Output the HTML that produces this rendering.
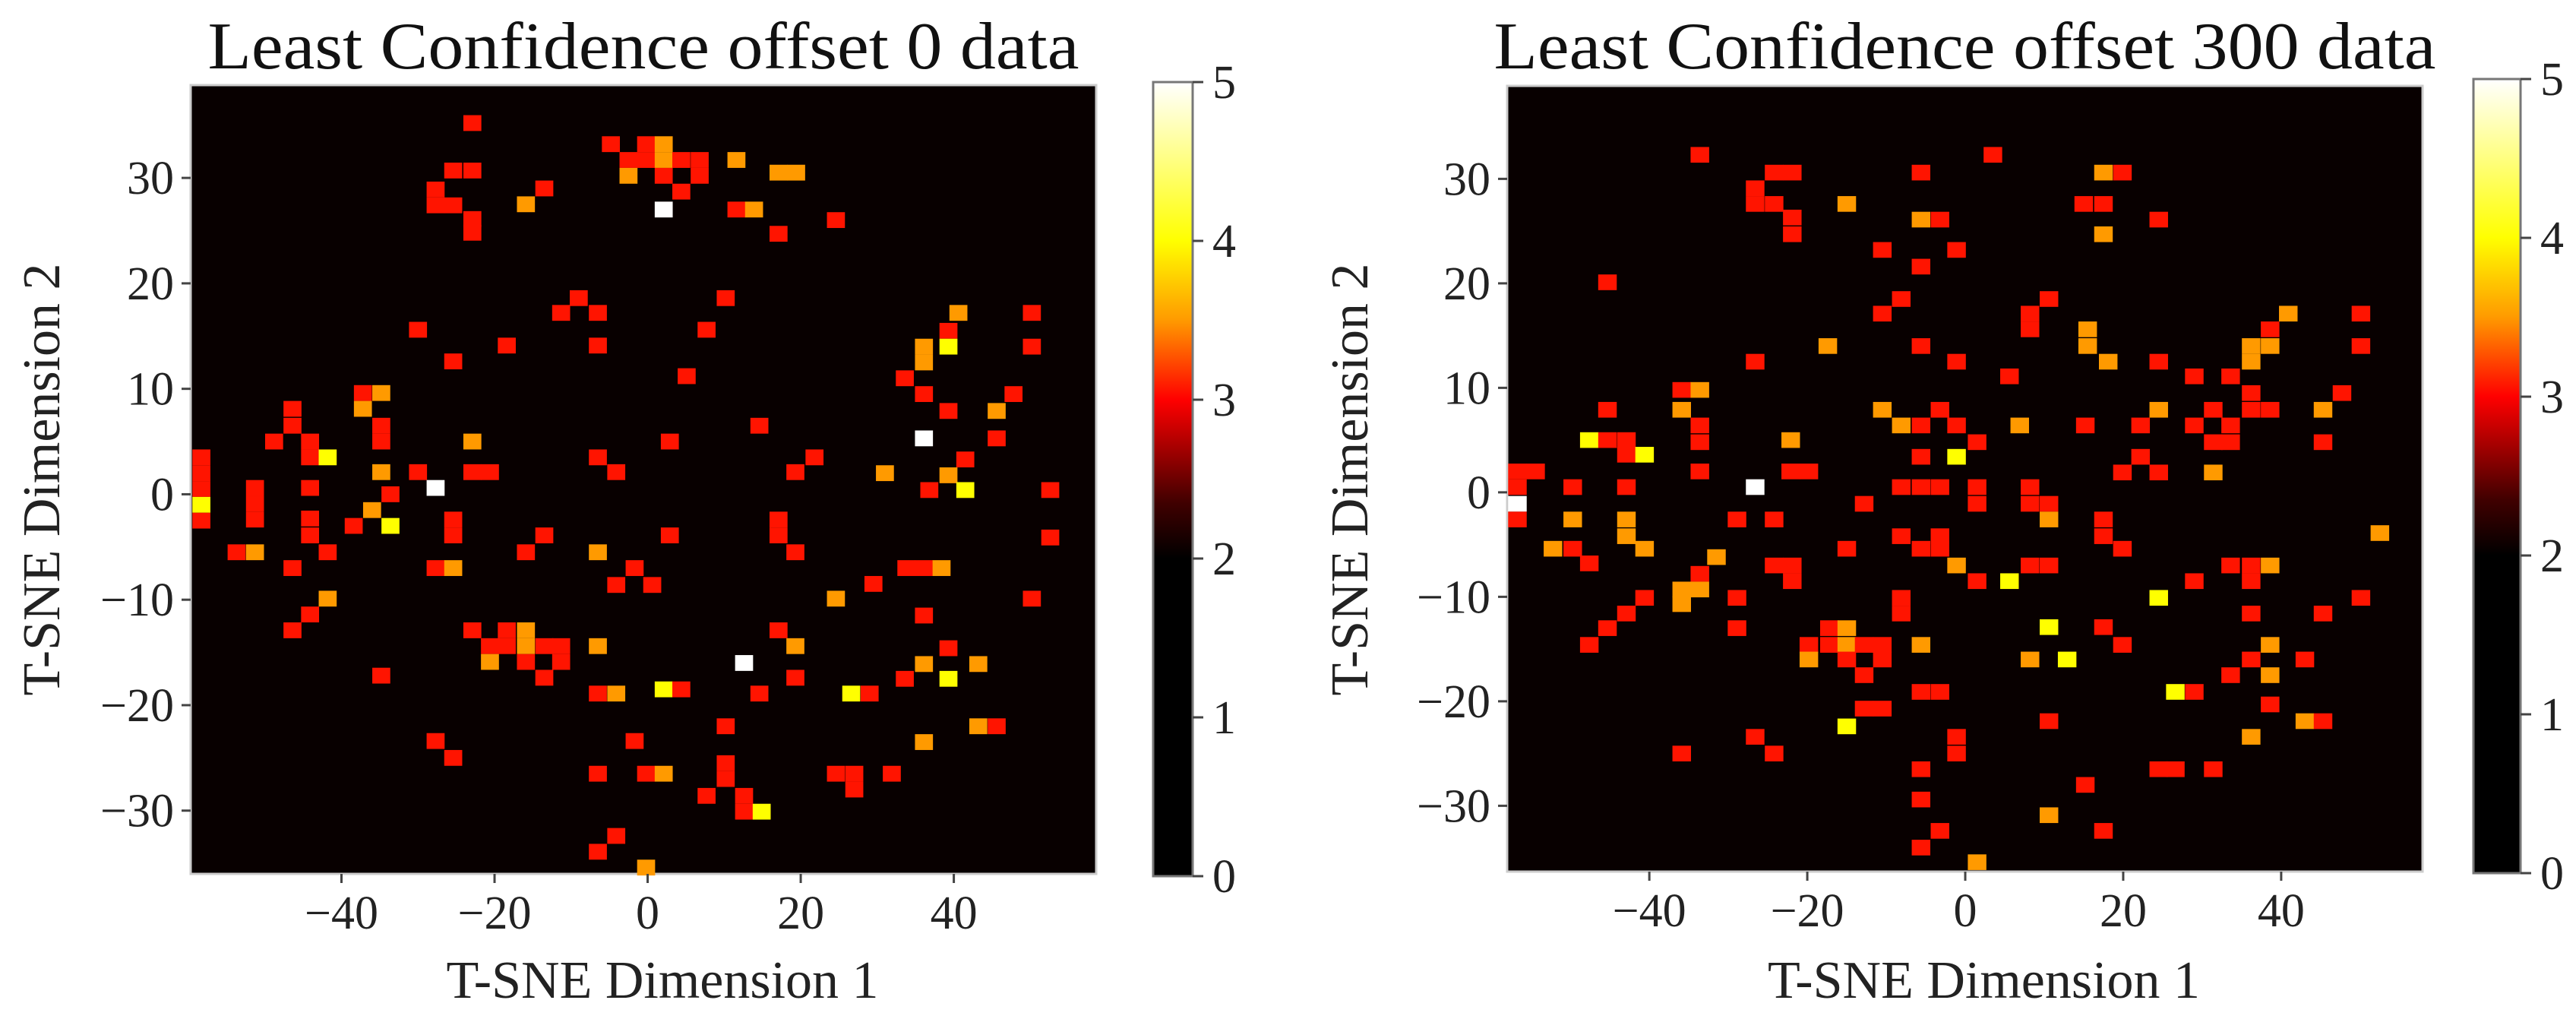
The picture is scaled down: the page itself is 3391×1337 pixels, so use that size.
<!DOCTYPE html>
<html><head><meta charset="utf-8"><style>
html,body{margin:0;padding:0;background:#fff;}
svg{display:block;font-family:"Liberation Serif",serif;}
</style></head><body>
<svg id="fig" width="3391" height="1337" viewBox="0 0 3391 1337" xmlns="http://www.w3.org/2000/svg">
<defs>
<linearGradient id="hotgrad" x1="0" y1="1" x2="0" y2="0">
<stop offset="0" stop-color="#000000"/><stop offset="0.4" stop-color="#000000"/>
<stop offset="0.47" stop-color="#400000"/><stop offset="0.6" stop-color="#ff0000"/>
<stop offset="0.7" stop-color="#ff9a00"/><stop offset="0.8" stop-color="#ffff00"/>
<stop offset="1" stop-color="#ffffff"/>
</linearGradient>
</defs>
<g id="left"></g>
<g id="right"></g>
</svg>
<script>
const leftX=[-22.9,-4.8,-2.5,-0.2,-0.2,2.1,2.1,4.4,6.8,6.8,2.1,-2.5,4.4,2.1,11.6,17.1,19.4,11.6,13.9,24.6,17.1,-25.4,-22.9,-27.7,-27.7,-25.4,-22.9,-22.9,-15.9,-13.5,-9.0,-11.3,-6.5,-30,-18.4,-6.5,-25.4,10.2,7.7,5.1,-37.2,-34.8,-37.2,-34.8,-34.8,-46.4,-46.4,-48.8,-44.1,-44.1,-41.8,-22.9,-30,-27.7,-22.9,-20.6,-34.8,-58.3,-58.3,-58.3,-58.3,-58.3,-51.3,-51.3,-51.3,-53.7,-51.3,-44.1,-44.1,-44.1,-41.8,-46.4,-36.0,-33.6,-33.6,-38.4,-25.4,-25.4,-27.7,-25.4,-15.9,-13.5,-6.5,-4.1,2.9,2.9,-6.5,-1.7,-4.1,0.6,14.6,19.3,21.8,17.1,17.1,19.3,-41.8,-44.1,-46.4,-34.8,-22.9,-18.4,-18.4,-20.6,-15.9,-15.9,-20.6,-15.9,-13.5,-11.3,-11.3,-13.5,-6.5,-6.5,-4.1,2.1,4.4,12.6,14.6,17.1,19.3,19.3,24.6,29.5,33.8,36.1,38.4,26.6,29.0,10.2,-27.7,-25.4,-1.7,-6.5,-0.2,2.1,10.2,10.2,7.7,12.6,12.6,14.9,24.6,27.0,27.0,31.9,-4.1,-6.5,-0.2,40.6,39.3,36.1,36.1,39.3,50.2,50.2,33.6,36.1,39.3,45.6,47.8,36.1,45.6,41.5,39.3,36.8,41.5,31.0,52.6,52.6,50.2,36.1,39.3,36.1,39.3,33.6,43.2,43.2,45.6,36.1];
const leftY=[35.2,33.2,31.7,33.2,31.7,33.2,31.7,31.7,31.7,30.2,30.2,30.2,28.7,27.0,31.7,30.5,30.5,27.0,27.0,26.0,24.7,30.7,30.7,28.9,27.4,27.4,26.1,24.8,27.5,29.0,18.6,17.2,17.2,15.6,14.1,14.1,12.6,18.6,15.6,11.2,9.6,9.6,8.1,6.5,5.0,8.1,6.5,5.0,5.0,3.5,3.5,5.0,2.1,0.6,2.1,2.1,2.1,3.5,2.0,0.5,-1.0,-2.5,0.6,-0.9,-2.4,-5.5,-5.5,0.6,-2.3,-3.9,-5.5,-7.0,-1.5,0,-3.0,-3.0,-2.4,-3.9,-7.0,-7.0,-5.5,-3.9,3.5,2.1,5.0,-3.9,-5.5,-7.0,-8.6,-8.6,6.5,2.1,3.5,-2.4,-3.9,-5.5,-9.9,-11.4,-12.9,-17.2,-12.9,-12.9,-14.4,-14.4,-12.9,-14.4,-15.9,-15.9,-14.4,-14.4,-15.9,-17.4,-14.4,-18.9,-18.9,-18.5,-18.5,-16.0,-18.9,-12.9,-14.4,-17.4,-9.9,-8.5,-7.0,-7.0,-7.0,-18.9,-18.9,-22.0,-23.4,-25.0,-23.4,-26.5,-26.5,-26.5,-25.5,-27.0,-28.6,-28.6,-30.1,-30.1,-26.5,-26.5,-28.0,-26.5,-32.4,-33.9,-35.4,17.2,15.5,14.0,12.5,14.0,17.2,14.0,11.0,9.5,7.9,7.9,9.5,5.3,5.3,3.3,1.8,0.4,0.4,2.0,0.4,-4.1,-9.9,-11.5,-14.6,-16.1,-17.5,-17.5,-16.1,-22.0,-22.0,-23.5];
const leftV=[3,3,3,3,3,3.5,3.5,3,3,3,3,3.5,3,5,3.5,3.5,3.5,3,3.5,3,3,3,3,3,3,3,3,3,3.5,3,3,3,3,3,3,3,3,3,3,3,3,3.5,3.5,3,3,3,3,3,3,3,4,3.5,3,5,3,3,3.5,3,3,3,4,3,3,3,3,3,3.5,3,3,3,3,3,3.5,3,4,3,3,3,3,3.5,3,3,3,3,3,3,3.5,3,3,3,3,3,3,3,3,3,3.5,3,3,3,3,3,3,3,3.5,3.5,3.5,3,3,3,3,3,3.5,3,3.5,4,3,5,3,3,3.5,3,3.5,3,3,3,3.5,4,3,3,3,3,3,3,3,3.5,3,3,3,3,3,4,3,3,3,3,3,3,3.5,3.5,3,3.5,3.5,4,3,3,3,3,3,3.5,3,5,3,3,3.5,3,4,3.5,3,3,3,3,3,3.5,4,3,3.5,3.5,3,3.5];
const rightX=[-33.6,3.5,-24.2,-21.9,-5.6,17.5,19.9,-26.6,-26.6,-24.2,-21.9,-21.9,-15.0,-5.6,-3.2,15.0,17.5,17.5,24.5,-10.5,-5.6,-1.1,-45.3,-8.1,-10.5,10.6,8.2,8.2,15.5,15.5,18.1,-17.4,-26.6,-5.6,-1.1,5.6,24.5,29.0,33.6,36.2,36.2,38.6,38.6,40.9,50.1,50.1,36.2,36.2,38.6,47.7,45.3,45.3,31.4,29.0,31.4,33.6,33.6,24.5,22.2,22.2,19.9,24.5,31.4,15.2,6.9,1.5,-1.1,-5.6,-5.6,-3.2,-10.5,-8.1,-1.1,-35.9,-33.6,-35.9,-33.6,-33.6,-45.3,-47.6,-45.3,-42.9,-42.9,-40.6,-22.1,-56.7,-54.4,-56.7,-56.7,-56.7,-49.7,-49.7,-42.9,-42.9,-42.9,-40.6,-52.2,-49.7,-47.6,-33.6,-26.6,-22.1,-19.8,-28.9,-24.2,-31.5,-33.6,-35.9,-33.6,-35.9,-40.6,-42.9,-45.3,-47.6,-28.9,-28.9,-24.2,-21.9,-21.9,-8.1,-5.6,-3.2,-12.8,1.5,1.5,8.2,8.2,10.6,10.6,17.5,17.5,19.9,-8.1,-3.2,-5.6,-3.2,-15.0,-1.1,1.5,5.6,8.2,10.6,-8.1,-8.1,24.5,29.0,33.6,36.2,36.2,38.6,50.1,36.2,45.3,52.5,10.6,17.5,19.9,8.2,12.9,-17.2,-19.8,-17.2,-15.0,-15.0,-19.8,-15.0,-12.8,-10.5,-10.5,-12.8,-5.6,-5.6,-3.2,-12.8,-10.5,-15.0,10.6,-26.6,-24.2,-35.9,-1.1,-1.1,-5.6,-5.6,-3.2,-5.6,1.5,10.6,15.2,17.5,26.6,29.0,33.6,36.2,38.6,38.6,43.0,38.6,43.0,45.3,36.2,24.5,26.6,31.4];
const rightY=[32.3,32.3,30.6,30.6,30.6,30.6,30.6,29.1,27.6,27.6,26.3,24.7,27.6,26.1,26.1,27.6,27.6,24.7,26.1,23.2,21.6,23.2,20.1,18.5,17.1,18.5,17.1,15.6,15.6,14.0,12.5,14.0,12.5,14.0,12.5,11.1,12.5,11.1,11.1,14.0,12.5,14.0,15.6,17.1,17.1,14.0,9.5,7.9,7.9,9.5,7.9,4.8,7.9,6.4,4.8,6.4,4.8,7.9,6.4,3.4,1.9,1.9,1.9,6.4,6.4,4.8,3.4,3.4,6.4,7.9,7.9,6.4,6.4,9.8,9.8,7.9,6.4,4.8,7.9,5.0,5.0,5.0,3.6,3.6,5.0,2.0,2.0,0.5,-1.1,-2.6,0.5,-2.6,0.5,-2.6,-4.2,-5.4,-5.4,-5.4,-6.8,2.0,0.5,2.0,2.0,-2.6,-2.6,-6.2,-7.8,-9.3,-9.3,-10.7,-10.1,-11.6,-13.0,-14.6,-10.1,-13.0,-7.0,-7.0,-8.5,0.5,0.5,0.5,-1.1,0.5,-1.1,0.5,-1.1,-1.1,-2.6,-2.6,-4.2,-5.4,-4.2,-4.2,-5.4,-5.4,-5.4,-7.0,-8.5,-8.5,-7.0,-7.0,-10.1,-11.6,-10.1,-8.5,-7.0,-7.0,-8.5,-7.0,-10.1,-11.6,-11.6,-3.9,-12.9,-12.9,-14.6,-16.0,-16.0,-13.0,-14.6,-14.6,-13.0,-14.6,-16.0,-16.0,-14.6,-14.6,-16.0,-17.5,-14.6,-19.1,-19.1,-20.7,-20.7,-22.4,-21.9,-23.4,-25.0,-25.0,-23.4,-25.0,-26.5,-29.4,-32.4,-34.0,-35.4,-30.9,-28.0,-32.4,-19.1,-19.1,-17.5,-16.0,-14.6,-17.5,-16.0,-20.3,-21.9,-21.9,-23.4,-26.5,-26.5,-26.5];
const rightV=[3,3,3,3,3,3.5,3,3,3,3,3,3,3.5,3.5,3,3,3,3.5,3,3,
3,3,3,3,3,3,3,3,3.5,3.5,3.5,3.5,3,3,3,3,3,3,3,3.5,
3.5,3.5,3,3.5,3,3,3,3,3,3,3.5,3,3,3,3,3,3,3.5,3,3,
3,3,3.5,3,3.5,3,4,3,3,3,3.5,3.5,3,3,3.5,3.5,3,3,3,4,
3,3,3,4,3.5,3,3,3,5,3,3,3.5,3,3.5,3.5,3.5,3.5,3,3,3,
5,3,3,3,3,3.5,3,3.5,3.5,3.5,3,3,3,3,3,3,3,3,3,3,
3,3,3,3,3,3,3,3,3.5,3,3,3,3,3,3,3,3,3.5,3,4,
3,3,3,3,4,3,3,3,3,3.5,3,3,3,3.5,4,3,3,3.5,4,3,
3,3,3.5,3.5,3.5,3,3,3,3,3,3.5,3,3,3,3,4,3,3,3,3,
3,3,3,3,3,3,3.5,3.5,3,3,4,3,3,3,3.5,3.5,3,3,3.5,3,
3.5,3,3,3];
const xTicks=[-40,-20,0,20,40];
const yTicks=[30,20,10,0,-10,-20,-30];
const cbTicks=[0,1,2,3,4,5];
const titles=["Least Confidence offset 0 data","Least Confidence offset 300 data"];

const NS="http://www.w3.org/2000/svg";
function mk(tag,attrs,parent){const e=document.createElementNS(NS,tag);for(const k in attrs)e.setAttribute(k,attrs[k]);parent.appendChild(e);return e;}
function lerp(a,b,t){return Math.round(a+(b-a)*t);}
const stops=[[0,[0,0,0]],[2,[0,0,0]],[2.35,[64,0,0]],[3,[255,20,0]],[3.5,[255,154,0]],[4,[255,255,0]],[5,[255,255,255]]];
function hot(v){for(let i=1;i<stops.length;i++){if(v<=stops[i][0]){const a=stops[i-1],b=stops[i];const t=(v-a[0])/(b[0]-a[0]);return `rgb(${lerp(a[1][0],b[1][0],t)},${lerp(a[1][1],b[1][1],t)},${lerp(a[1][2],b[1][2],t)})`;}}return "#fff";}

function panel(g,cfg,xs,ys,vs,title){
  const sx=v=>cfg.x0+(v-cfg.dx[0])/(cfg.dx[1]-cfg.dx[0])*(cfg.x1-cfg.x0);
  const sy=v=>cfg.y1-(v-cfg.dy[0])/(cfg.dy[1]-cfg.dy[0])*(cfg.y1-cfg.y0);
  const t=mk('text',{x:(cfg.x0+cfg.x1)/2,y:90,'text-anchor':'middle','font-size':88,fill:'#111',textLength:cfg.tw,lengthAdjust:'spacingAndGlyphs'},g);
  t.textContent=title;
  
  
  const bg=mk('rect',{x:cfg.x0,y:cfg.y0,width:cfg.x1-cfg.x0,height:cfg.y1-cfg.y0,fill:'#080000',stroke:'#ccc','stroke-width':3},g);
  
  
  const bw=2.35,bh=1.5;
  const cw=Math.abs(sx(bw)-sx(0)),ch=Math.abs(sy(bh)-sy(0));
  const n=Math.min(xs.length,ys.length,vs.length);
  for(let i=0;i<n;i++){
    const r=mk('rect',{x:sx(xs[i])-cw/2,y:sy(ys[i])-ch/2,width:cw,height:ch,fill:hot(vs[i])},g);
    
    
  }
  xTicks.forEach(v=>{
    mk('line',{x1:sx(v),x2:sx(v),y1:cfg.y1,y2:cfg.y1+12,stroke:'#444','stroke-width':3},g);
    const l=mk('text',{x:sx(v),y:cfg.y1+72,'text-anchor':'middle','font-size':62,fill:'#222'},g);
    l.textContent=v<0?'\u2212'+(-v):String(v);
    
    
  });
  yTicks.forEach(v=>{
    mk('line',{x1:cfg.x0-12,x2:cfg.x0,y1:sy(v),y2:sy(v),stroke:'#444','stroke-width':3},g);
    const l=mk('text',{x:cfg.x0-22,y:sy(v)+21,'text-anchor':'end','font-size':62,fill:'#222'},g);
    l.textContent=v<0?'\u2212'+(-v):String(v);
    
    
  });
  const xl=mk('text',{x:(cfg.x0+cfg.x1)/2+25,y:1313,'text-anchor':'middle','font-size':70,fill:'#222'},g);
  xl.textContent='T-SNE Dimension 1';
  
  
  const yl=mk('text',{x:0,y:0,'text-anchor':'middle','font-size':70,fill:'#222',transform:`translate(${cfg.ylx},631) rotate(-90)`},g);
  yl.textContent='T-SNE Dimension 2';
  
  
  const cb=mk('rect',{x:cfg.cbx,y:cfg.cby0,width:cfg.cbw,height:cfg.cby1-cfg.cby0,fill:'url(#hotgrad)',stroke:'#777','stroke-width':3},g);
  
  
  cbTicks.forEach(v=>{
    const y=cfg.cby1-v/5*(cfg.cby1-cfg.cby0);
    mk('line',{x1:cfg.cbx+cfg.cbw,x2:cfg.cbx+cfg.cbw+14,y1:y,y2:y,stroke:'#444','stroke-width':3},g);
    const l=mk('text',{x:cfg.cbx+cfg.cbw+26,y:y+21,'font-size':62,fill:'#222'},g);
    l.textContent=String(v);
    
    
  });
}
panel(document.getElementById('left'),{x0:251,x1:1443,y0:112,y1:1150,dx:[-59.7,58.6],dy:[-36,38.8],tw:1147,ylx:78,cbx:1518,cbw:52,cby0:108,cby1:1153},leftX,leftY,leftV,titles[0]);
panel(document.getElementById('right'),{x0:1984,x1:3189,y0:113,y1:1147,dx:[-58,57.9],dy:[-36.3,38.9],tw:1240,ylx:1800,cbx:3256,cbw:62,cby0:104,cby1:1149},rightX,rightY,rightV,titles[1]);
</script>
</body></html>
